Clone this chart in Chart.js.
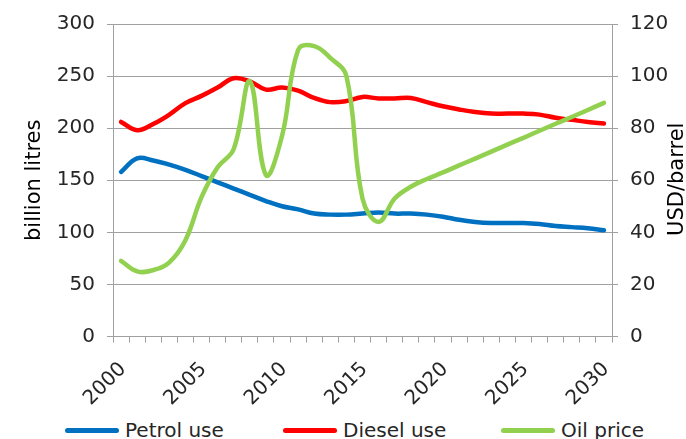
<!DOCTYPE html>
<html>
<head>
<meta charset="utf-8">
<script src="https://cdn.jsdelivr.net/npm/chart.js@4.4.1/dist/chart.umd.min.js"></script>
<style>
  html, body { margin:0; padding:0; background:#fff; overflow:hidden; }
  #wrap { position:relative; width:686px; height:439px; }
  #chart { position:absolute; left:0; top:0; }
  #legend { position:absolute; left:65px; top:410px; height:40px; display:flex; align-items:center;
            font-family:'DejaVu Sans', Verdana, sans-serif; font-size:20px; color:#262626; }
  #legend .item { width:218px; display:flex; align-items:center; white-space:nowrap; }
  #legend .swatch { width:54px; height:5px; border-radius:3px; margin-right:6px; }
</style>
</head>
<body>
<div id="wrap">
  <canvas id="chart" width="686" height="410"></canvas>
  <div id="legend"></div>
</div>
<script>
const years = ['2000','2001','2002','2003','2004','2005','2006','2007','2008','2009','2010',
  '2011','2012','2013','2014','2015','2016','2017','2018','2019','2020',
  '2021','2022','2023','2024','2025','2026','2027','2028','2029','2030'];
const petrolUse = [158,171,169,165,160,154,148,142,136,130,125,122,118,117,117,118,119,118,118,117,115,112,110,109,109,109,108,106,105,104,102];
const dieselUse = [206,198,204,213,224,231,239,248,245,237,239,236,229,225,226,230,228.5,228.5,229,225,221,218,215.5,214,214,214,213,210,208,206,204.5];
const oilPrice = [29,25,25.5,28.5,37,53.5,65,72,98,62,77,110,111.5,107,100,53,44,53,57.5,60.5,63,65.7,68.3,71,73.7,76.3,79,81.7,84.3,87,89.7];
const leftTicks = [0,300,50];   // min, max, step (billion litres)
const rightTicks = [0,120,20];  // min, max, step (USD/barrel)

Chart.defaults.font.family = "'DejaVu Sans', Verdana, sans-serif";
Chart.defaults.font.size = 20;
Chart.defaults.color = '#262626';

const gridGray = '#a0a0a0';

// right axis title reads bottom-to-top like the left one
const rightTitle = {
  id:'rightTitle',
  afterDraw(chart){
    const ctx = chart.ctx, ca = chart.chartArea;
    ctx.save();
    ctx.translate(chart.scales.y2.right - 3, (ca.top + ca.bottom)/2 - 1);
    ctx.rotate(-Math.PI/2);
    ctx.font = "21px 'DejaVu Sans', Verdana, sans-serif";
    ctx.fillStyle = '#000';
    ctx.textAlign = 'center';
    ctx.textBaseline = 'alphabetic';
    ctx.fillText('USD/barrel', 0, 0);
    ctx.restore();
  }
};

// html legend built from the datasets
const htmlLegend = {
  id:'htmlLegend',
  afterUpdate(chart){
    const box = document.getElementById('legend');
    box.innerHTML = '';
    chart.data.datasets.forEach(ds=>{
      const it = document.createElement('div'); it.className='item';
      const sw = document.createElement('span'); sw.className='swatch'; sw.style.background = ds.borderColor;
      const tx = document.createElement('span'); tx.textContent = ds.label;
      it.appendChild(sw); it.appendChild(tx); box.appendChild(it);
    });
  }
};

const lineStyle = {borderWidth:4.5, pointRadius:0, tension:0.4, fill:false, borderCapStyle:'round', borderJoinStyle:'round'};

new Chart(document.getElementById('chart'), {
  type:'line',
  data:{
    labels:years,
    datasets:[
      {label:'Petrol use', data:petrolUse, borderColor:'#0070C0', backgroundColor:'#0070C0', yAxisID:'y', order:2, ...lineStyle},
      {label:'Diesel use', data:dieselUse, borderColor:'#FF0000', backgroundColor:'#FF0000', yAxisID:'y', order:1, ...lineStyle},
      {label:'Oil price', data:oilPrice, borderColor:'#92D050', backgroundColor:'#92D050', yAxisID:'y2', order:0, ...lineStyle}
    ]
  },
  options:{
    responsive:false,
    animation:false,
    layout:{padding:{top:21, left:0, right:0, bottom:0}},
    plugins:{legend:{display:false}, tooltip:{enabled:false}},
    scales:{
      x:{
        offset:true,
        grid:{offset:true, drawOnChartArea:false, tickLength:6, color:gridGray},
        border:{display:true, color:gridGray},
        ticks:{autoSkip:false, minRotation:45, maxRotation:45, padding:15, labelOffset:2,
               callback:(v,i)=> (Number(years[i])%5===0 ? years[i] : '')},
        afterFit:(s)=>{ s.height = 73.5; }
      },
      y:{
        position:'left',
        min:leftTicks[0], max:leftTicks[1],
        ticks:{stepSize:leftTicks[2], padding:12},
        grid:{color:gridGray, tickLength:6},
        border:{display:true, color:gridGray},
        title:{display:true, text:'billion litres', color:'#000', font:{size:21}, padding:{top:22, bottom:0}},
        afterFit:(s)=>{ s.width = 113; }
      },
      y2:{
        position:'right',
        min:rightTicks[0], max:rightTicks[1],
        ticks:{stepSize:rightTicks[2], padding:12},
        grid:{drawOnChartArea:false, color:gridGray, tickLength:6},
        border:{display:true, color:gridGray},
        afterFit:(s)=>{ s.width = 74; }
      }
    }
  },
  plugins:[rightTitle, htmlLegend]
});
</script>
</body>
</html>
